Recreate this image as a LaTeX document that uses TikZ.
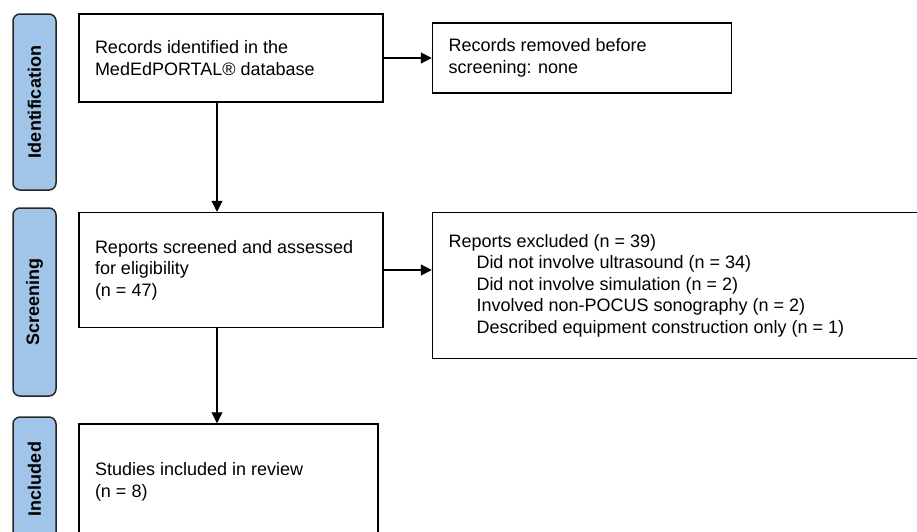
\documentclass[tikz,border=0pt]{standalone}
\usepackage{fontspec}
\setmainfont{Liberation Sans}
\usetikzlibrary{arrows.meta, positioning}
\definecolor{stageblue}{RGB}{160,197,232}
\tikzstyle{process} = [rectangle, draw=black, line width=1.5pt, inner xsep=16pt, inner ysep=0pt, font=\fontsize{18}{21.5}\selectfont]
\tikzstyle{arrow} = [line width=1.1pt,->,>={Triangle[length=11pt,width=11pt]}]
\tikzset{
	stage/.style={rectangle, rounded corners=7pt, rotate=90, minimum height=43pt, draw=black!85, line width=1.5pt, fill=stageblue, inner sep=0pt, font=\fontsize{18}{21.5}\selectfont\bfseries}
}

\begin{document}
\begin{tikzpicture}[node distance=48pt, x=1pt, y=-1pt]
		\useasboundingbox (0,0) rectangle (917,531);
		
		% Stage labels
		\node (identstage) [stage, minimum width=176pt] at (34.5,102) {Identification};
		\node (screenstage) [stage, minimum width=188pt] at (34.5,302) {Screening};
		\node (inclstage) [stage, minimum width=124pt] at (34.5,479) {Included};
		
		% Nodes (Using \parbox to allow line breaks)
		\node (records) [process, minimum height=88pt] at (231,58) {\parbox{272pt}{Records identified in the \\ MedEdPORTAL® database}};
		\node (removed) [process, minimum height=70pt, right=of records] {\parbox{267pt}{Records removed before \\ screening: none}};
		\node (screened) [process, minimum height=115pt, below=109pt of records] {\parbox{272pt}{Reports screened and assessed \\ for eligibility \\ (n = 47)}};
		\node (excluded) [process, minimum height=146pt, right=of screened.north east, anchor=north west] {\parbox{478pt}{Reports excluded (n = 39) \\
				\hspace*{28pt}Did not involve ultrasound (n = 34) \\
				\hspace*{28pt}Did not involve simulation (n = 2) \\
				\hspace*{28pt}Involved non-POCUS sonography (n = 2) \\
				\hspace*{28pt}Described equipment construction only (n = 1)}};
		\node (included) [process, minimum height=116pt, below=95pt of screened.south west, anchor=north west] {\parbox{267pt}{Studies included in review \\ (n = 8)}};
		
		% Arrows
		\draw [arrow] (records) -- (removed);
		\draw [arrow] ([xshift=-14pt]records.south) -- ([xshift=-14pt]screened.north);
		\draw [arrow] (screened.east) -- (screened.east -| excluded.west);
		\draw [arrow] ([xshift=-14pt]screened.south) -- ([xshift=-14pt]screened.south |- included.north);
		
	\end{tikzpicture}
\end{document}
